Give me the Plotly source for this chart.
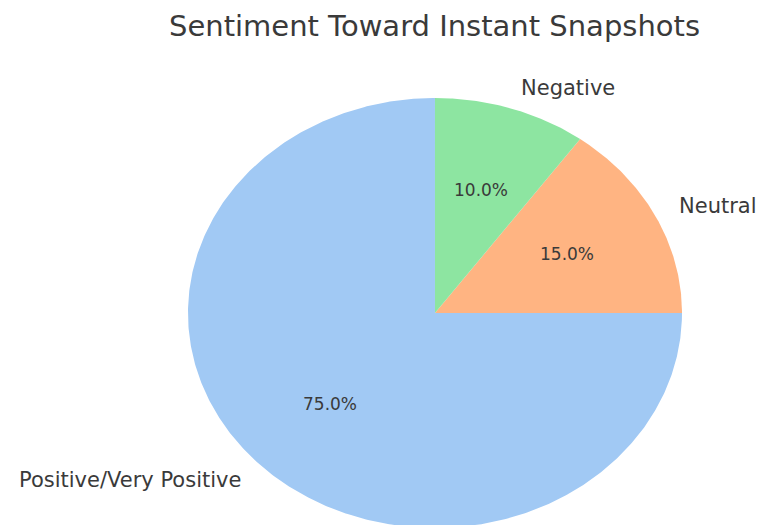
import numpy as np
import plotly.graph_objects as go

labels = ["Positive/Very Positive", "Neutral", "Negative"]
values = [75.0, 15.0, 10.0]
colors = ["#a1c9f4", "#ffb482", "#8de5a1"]
title = "Sentiment Toward Instant Snapshots"

TXT = "#3a3a3a"
FONT = "DejaVu Sans"

total = sum(values)
start = 90.0  # degrees, counterclockwise like matplotlib startangle=90

fig = go.Figure()
ann = []
ang0 = start
for lab, val, col in zip(labels, values, colors):
    sweep = 360.0 * val / total
    ang1 = ang0 + sweep
    n = max(int(sweep * 2), 8)
    th = np.radians(np.linspace(ang0, ang1, n))
    xs = np.concatenate([[0.0], np.cos(th), [0.0]])
    ys = np.concatenate([[0.0], np.sin(th), [0.0]])
    fig.add_trace(go.Scatter(x=xs, y=ys, mode="lines", fill="toself",
                             fillcolor=col, line=dict(width=0, color=col),
                             hoverinfo="skip", showlegend=False))
    mid = np.radians((ang0 + ang1) / 2)
    lx, ly = 1.1 * np.cos(mid), 1.1 * np.sin(mid)
    ann.append(dict(x=lx, y=ly, xref="x", yref="y", text=lab, showarrow=False,
                    xanchor="left" if lx > 0 else "right", yanchor="middle",
                    font=dict(family=FONT, size=21, color=TXT)))
    px_, py_ = 0.6 * np.cos(mid), 0.6 * np.sin(mid)
    ann.append(dict(x=px_, y=py_, xref="x", yref="y", text=f"{val / total * 100:.1f}%",
                    showarrow=False, xanchor="center", yanchor="middle",
                    font=dict(family=FONT, size=17, color=TXT)))
    ang0 = ang1

ann.append(dict(x=0, y=1.335, xref="x", yref="y", text=title, showarrow=False,
                xanchor="center", yanchor="middle",
                font=dict(family=FONT, size=29, color=TXT)))

fig.update_layout(
    width=758, height=525,
    margin=dict(l=0, r=0, t=0, b=0),
    paper_bgcolor="white", plot_bgcolor="white",
    xaxis=dict(range=[-1.761, 1.3077], visible=False, fixedrange=True),
    yaxis=dict(range=[-0.986, 1.4558], visible=False, fixedrange=True),
    annotations=ann,
)
fig.write_html("out.html", config={"displayModeBar": False},
               post_script="document.body.style.margin='0px';document.body.style.overflow='hidden';")
